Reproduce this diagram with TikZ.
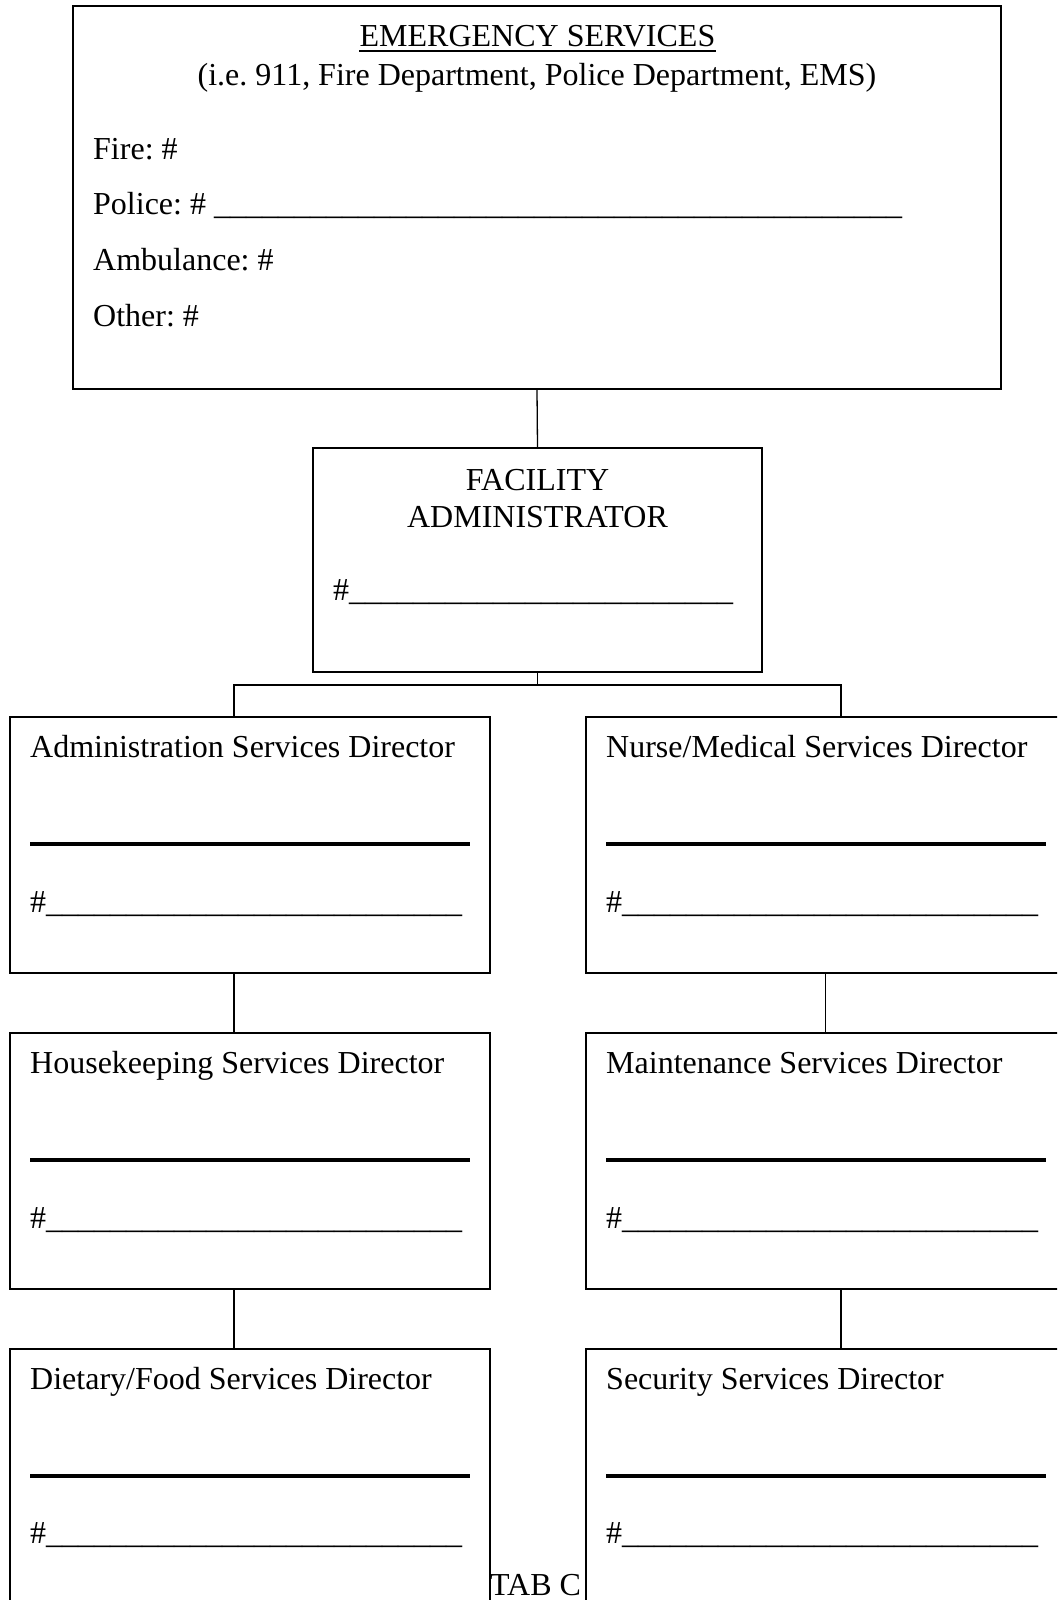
\documentclass[tikz,border=0pt]{standalone}
\usepackage{fontspec}
\setmainfont{Liberation Serif}
\frenchspacing
\begin{document}
\begin{tikzpicture}[x=1pt,y=-1pt,
  box/.style={draw=black,line width=2pt,inner sep=0pt,minimum width=480pt,minimum height=256pt},
  conn/.style={draw=black,line width=1.3pt},
  thickline/.style={draw=black,line width=4.2pt},
  txt/.style={inner sep=0pt,font=\fontsize{32}{37}\selectfont\frenchspacing},
  lbl/.style={txt,anchor=base west},
  ctr/.style={txt,anchor=base}]
\useasboundingbox (0,0) rectangle (1057,1600);
\clip (0,0) rectangle (1057,1600);
% emergency services
\node[box,minimum width=928pt,minimum height=383pt] (es) at (537,197.5) {};
\node[ctr] (estitle) at (537.5,47) {EMERGENCY SERVICES};
\draw[line width=1.4pt] ([yshift=-4pt]estitle.base west) -- ([yshift=-4pt]estitle.base east);
\node[ctr] (essub) at (537,86) {(i.e. 911, Fire Department, Police Department, EMS)};
\node[lbl] (fire) at (93,159) {Fire: \#};
\node[lbl] (police) at (93,214) {Police: \# \_\_\_\_\_\_\_\_\_\_\_\_\_\_\_\_\_\_\_\_\_\_\_\_\_\_\_\_\_\_\_\_\_\_\_\_\_\_\_\_\_\_\_};
\node[lbl] (amb) at (93,270) {Ambulance: \#};
\node[lbl] (other) at (93,326) {Other: \#};
% facility administrator
\node[box,minimum width=449pt,minimum height=224pt] (fa) at (537.5,560) {};
\node[ctr] (fa1) at (537.5,490) {FACILITY};
\node[ctr] (fa2) at (537.5,527) {ADMINISTRATOR};
\node[lbl] (fa3) at (333,600) {\#\_\_\_\_\_\_\_\_\_\_\_\_\_\_\_\_\_\_\_\_\_\_\_\_};
% directors
\node[box] (ad) at (249.5,845) {};
\node[box] (nm) at (825.5,845) {};
\node[box] (hk) at (249.5,1161) {};
\node[box] (mt) at (825.5,1161) {};
\node[box] (df) at (249.5,1477) {};
\node[box] (ss) at (825.5,1477) {};
\node[lbl] (adt) at (30,757) {Administration Services Director};
\node[lbl] (nmt) at (606,757) {Nurse/Medical Services Director};
\node[lbl] (hkt) at (30,1073) {Housekeeping Services Director};
\node[lbl] (mtt) at (606,1073) {Maintenance Services Director};
\node[lbl] (dft) at (30,1389) {Dietary/Food Services Director};
\node[lbl] (sst) at (606,1389) {Security Services Director};
\foreach \y in {844,1160,1476}{
  \draw[thickline] (30,\y) -- (470,\y);
  \draw[thickline] (606,\y) -- (1046,\y);
}
\node[lbl] (adn) at (30,912) {\#\_\_\_\_\_\_\_\_\_\_\_\_\_\_\_\_\_\_\_\_\_\_\_\_\_\_};
\node[lbl] (nmn) at (606,912) {\#\_\_\_\_\_\_\_\_\_\_\_\_\_\_\_\_\_\_\_\_\_\_\_\_\_\_};
\node[lbl] (hkn) at (30,1228) {\#\_\_\_\_\_\_\_\_\_\_\_\_\_\_\_\_\_\_\_\_\_\_\_\_\_\_};
\node[lbl] (mtn) at (606,1228) {\#\_\_\_\_\_\_\_\_\_\_\_\_\_\_\_\_\_\_\_\_\_\_\_\_\_\_};
\node[lbl] (dfn) at (30,1543) {\#\_\_\_\_\_\_\_\_\_\_\_\_\_\_\_\_\_\_\_\_\_\_\_\_\_\_};
\node[lbl] (ssn) at (606,1543) {\#\_\_\_\_\_\_\_\_\_\_\_\_\_\_\_\_\_\_\_\_\_\_\_\_\_\_};
\node[lbl] (tab) at (490,1595) {TAB C};
% connectors
\coordinate (jn) at (537.5,685);
\draw[conn] (es.south) -- (fa.north);
\draw[conn] (fa.south) -- (jn);
\draw[conn] ([xshift=-15.5pt]ad.north) |- (jn) -| ([xshift=15.5pt]nm.north);
\draw[conn] ([xshift=-15.5pt]ad.south) -- ([xshift=-15.5pt]hk.north);
\draw[conn] (nm.south) -- (mt.north);
\draw[conn] ([xshift=-15.5pt]hk.south) -- ([xshift=-15.5pt]df.north);
\draw[conn] ([xshift=15.5pt]mt.south) -- ([xshift=15.5pt]ss.north);
\end{tikzpicture}
\end{document}
